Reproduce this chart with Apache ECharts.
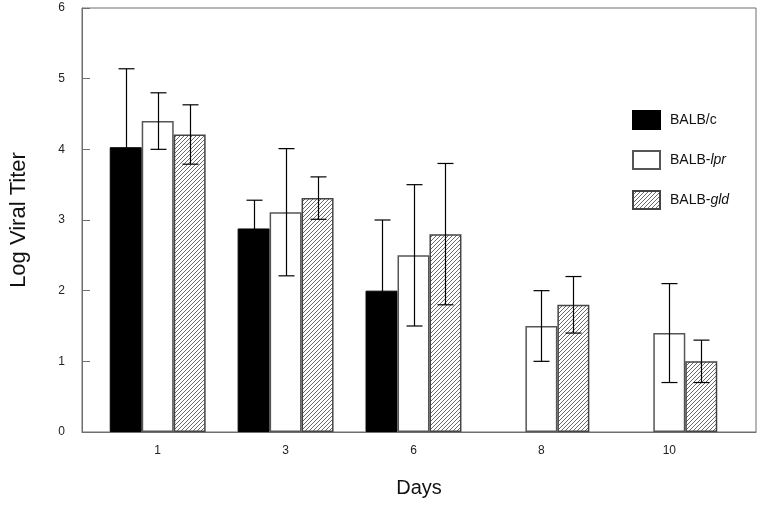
<!DOCTYPE html>
<html>
<head>
<meta charset="utf-8">
<script src="https://cdn.jsdelivr.net/npm/echarts@6/dist/echarts.min.js"></script>
<style>html,body{margin:0;padding:0;background:#fff}#c{width:762px;height:505px}</style>
</head>
<body>
<div id="c"></div>
<script>
var days = ['1', '3', '6', '8', '10'];
var seriesNames = ['BALB/c', 'BALB-lpr', 'BALB-gld'];
var balbC = [4.03, 2.88, 2.00, null, null];
var balbCErr = [1.11, 0.40, 1.00, null, null];
var balbLpr = [4.40, 3.11, 2.50, 1.50, 1.40];
var balbLprErr = [0.40, 0.90, 1.00, 0.50, 0.70];
var balbGld = [4.21, 3.31, 2.80, 1.80, 1.00];
var balbGldErr = [0.42, 0.30, 1.00, 0.40, 0.30];
var yTicks = [0, 1, 2, 3, 4, 5, 6];

var FONT = "'Liberation Sans', Arial, Helvetica, sans-serif";

function hatch() {
  var c = document.createElement('canvas');
  c.width = 4; c.height = 4;
  var g = c.getContext('2d');
  g.fillStyle = '#ffffff'; g.fillRect(0, 0, 4, 4);
  g.strokeStyle = '#6a6a6a'; g.lineWidth = 1;
  g.beginPath();
  g.moveTo(-1, 5); g.lineTo(5, -1);
  g.moveTo(-1, 1); g.lineTo(1, -1);
  g.moveTo(3, 5); g.lineTo(5, 3);
  g.stroke();
  return {image: c, repeat: 'repeat'};
}

function errSeries(vals, errs, idx) {
  var data = [];
  vals.forEach(function (v, i) {
    if (v != null && errs[i] != null) data.push([i, v - errs[i], v + errs[i]]);
  });
  return {
    type: 'custom', xAxisIndex: 1, yAxisIndex: 1, z: 10, silent: true,
    data: data,
    renderItem: function (params, api) {
      var i = api.value(0);
      var lo = api.coord([i, api.value(1)]);
      var hi = api.coord([i, api.value(2)]);
      var band = api.size([1, 0])[0];
      var bw = band * 0.75 / 3;
      var x = Math.round(lo[0] + (idx - 1) * bw) + 0.5;
      var cap = 8;
      var st = {stroke: '#000', lineWidth: 1.2, fill: null};
      return {
        type: 'group',
        children: [
          {type: 'line', shape: {x1: x, y1: hi[1], x2: x, y2: lo[1]}, style: st},
          {type: 'line', shape: {x1: x - cap, y1: hi[1], x2: x + cap, y2: hi[1]}, style: st},
          {type: 'line', shape: {x1: x - cap, y1: lo[1], x2: x + cap, y2: lo[1]}, style: st}
        ]
      };
    }
  };
}

var chart = echarts.init(document.getElementById('c'), null, {renderer: 'canvas'});
var hatchColor = hatch();

chart.setOption({
  animation: false,
  backgroundColor: '#fff',
  textStyle: {fontFamily: FONT},
  grid: [
    {left: 82, right: 6, top: 8, bottom: 73, containLabel: false, outerBoundsMode: 'none',
      show: true, borderColor: '#6e6e6e', borderWidth: 1, backgroundColor: 'transparent'},
    {left: 93.75, right: 28.75, top: 8, bottom: 73, containLabel: false, outerBoundsMode: 'none'}
  ],
  legend: {
    data: seriesNames,
    orient: 'vertical',
    left: 632, top: 110, padding: 0,
    icon: 'rect',
    itemWidth: 27, itemHeight: 18, itemGap: 20,
    selectedMode: false,
    textStyle: {
      fontFamily: FONT, fontSize: 14, color: '#111', padding: [0, 0, 0, 5],
      rich: {
        n: {fontFamily: FONT, fontSize: 14, color: '#111'},
        i: {fontFamily: FONT, fontSize: 14, color: '#111', fontStyle: 'italic'}
      }
    },
    formatter: function (name) {
      var p = name.split('-');
      if (p.length === 2) return '{n|' + p[0] + '-}{i|' + p[1] + '}';
      return '{n|' + name + '}';
    }
  },
  xAxis: [
    {
      gridIndex: 0, type: 'value', min: 0, max: 1,
      axisLine: {show: true, lineStyle: {color: '#6e6e6e', width: 1}},
      axisTick: {show: false}, axisLabel: {show: false}, splitLine: {show: false},
      name: 'Days', nameLocation: 'middle', nameGap: 46,
      nameTextStyle: {fontFamily: FONT, fontSize: 20, color: '#111'}
    },
    {
      gridIndex: 1, type: 'category', data: days,
      axisLine: {show: false}, axisTick: {show: false},
      axisLabel: {fontFamily: FONT, fontSize: 12, color: '#222', margin: 13}
    }
  ],
  yAxis: [
    {
      gridIndex: 0, type: 'value', min: 0, max: 6, interval: 1,
      axisLine: {show: true, lineStyle: {color: '#6e6e6e', width: 1}},
      axisTick: {show: true, inside: true, length: 8, lineStyle: {color: '#6e6e6e'}},
      axisLabel: {fontFamily: FONT, fontSize: 12, color: '#222', margin: 17,
        formatter: function (v) { return yTicks.indexOf(v) >= 0 ? String(v) : ''; }},
      splitLine: {show: false},
      name: 'Log Viral Titer', nameLocation: 'middle', nameGap: 52,
      nameTextStyle: {fontFamily: FONT, fontSize: 22, color: '#111'}
    },
    {
      gridIndex: 1, type: 'value', min: 0, max: 6, interval: 1, show: false
    }
  ],
  series: [
    {
      name: seriesNames[0], type: 'bar', xAxisIndex: 1, yAxisIndex: 1,
      data: balbC, barGap: '0%', barCategoryGap: '25%',
      itemStyle: {color: '#000', borderColor: '#000', borderWidth: 1}
    },
    {
      name: seriesNames[1], type: 'bar', xAxisIndex: 1, yAxisIndex: 1,
      data: balbLpr, barGap: '0%', barCategoryGap: '25%',
      itemStyle: {color: '#fff', borderColor: '#555', borderWidth: 1.5}
    },
    {
      name: seriesNames[2], type: 'bar', xAxisIndex: 1, yAxisIndex: 1,
      data: balbGld, barGap: '0%', barCategoryGap: '25%',
      itemStyle: {color: hatchColor, borderColor: '#444', borderWidth: 1.5}
    },
    errSeries(balbC, balbCErr, 0),
    errSeries(balbLpr, balbLprErr, 1),
    errSeries(balbGld, balbGldErr, 2)
  ]
});
</script>
</body>
</html>
